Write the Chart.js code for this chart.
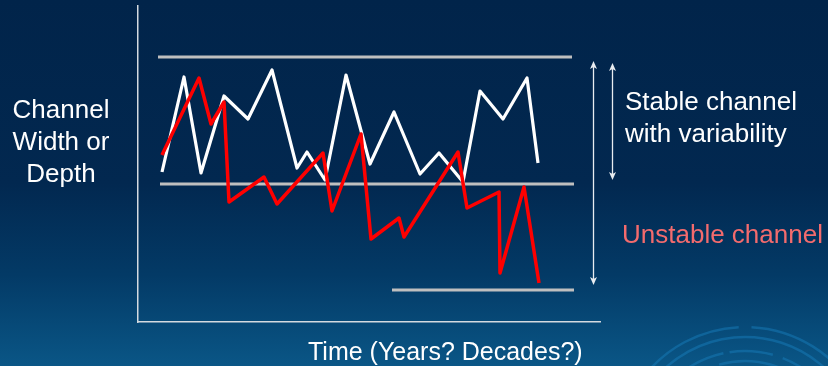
<!DOCTYPE html>
<html>
<head>
<meta charset="utf-8">
<script src="https://cdn.jsdelivr.net/npm/chart.js@4.4.1/dist/chart.umd.min.js"></script>
<style>
  html, body { margin: 0; padding: 0; background: #01244a; overflow: hidden; }
  canvas { display: block; }
</style>
</head>
<body>
<canvas id="c" width="828" height="366"></canvas>
<script>
// ---- Data (arbitrary units: time along x, channel width/depth along y) ----
const stableTime  = [24, 46, 63, 86, 110, 134, 159, 169, 187, 208, 232, 256, 282, 301, 325, 342, 365, 389, 400];
const stableDepth = [150, 245, 149, 226, 203, 252, 154, 170, 142, 247, 158, 210, 148, 169, 140, 231, 203, 244, 159];

const unstableTime  = [24, 61, 73, 86, 91, 126, 139, 185, 194, 223, 233, 261, 266, 320, 329, 361, 362, 386, 401];
const unstableDepth = [167, 244, 198, 220, 120, 145, 118, 169, 111, 188, 83, 104, 85, 170, 114, 130, 49, 135, 39];

// Channel boundary lines: [startTime, endTime, level]
const upperBound  = [20, 434, 265];
const middleBound = [22, 436, 138];
const lowerBound  = [254, 436, 32];

// Double-headed arrows: [time, fromLevel, toLevel]
const unstableArrow = [455, 261, 37];
const stableArrow   = [474, 259, 142];

const yAxisLabel = ["Channel", "Width or", "Depth"];
const xAxisLabel = "Time (Years? Decades?)";
const stableLabel = ["Stable channel", "with variability"];
const unstableLabel = "Unstable channel";

const xMax = 462, yMax = 316;

function seg(b) { return [{x: b[0], y: b[2]}, {x: b[1], y: b[2]}]; }
function pts(xs, ys) { return xs.map((x, i) => ({x, y: ys[i]})); }

const FONT = '26px "Liberation Sans", Arial, sans-serif';
const FONT_X = '25px "Liberation Sans", Arial, sans-serif';

const bgPlugin = {
  id: 'bg',
  beforeDraw(chart) {
    const ctx = chart.ctx, w = chart.width, h = chart.height;
    ctx.save();
    const g = ctx.createLinearGradient(0, 0, 0, h);
    g.addColorStop(0, '#01244a');
    g.addColorStop(0.5, '#022850');
    g.addColorStop(0.75, '#033a66');
    g.addColorStop(1, '#0a5686');
    ctx.fillStyle = g;
    ctx.fillRect(0, 0, w, h);
    // decorative swirl
    ctx.strokeStyle = 'rgba(22,120,180,0.55)';
    ctx.lineWidth = 2.5;
    ctx.lineCap = 'butt';
    const cx = 745, cy = 455;
    const arcs = [
      [128, -2.5, -1.62], [128, -1.52, -0.5],
      [118, -2.45, -0.6],
      [104, -2.2, -1.78], [104, -1.72, -1.3], [104, -1.2, -0.7],
      [94, -2.15, -1.95], [94, -1.85, -1.0]
    ];
    for (const a of arcs) {
      ctx.beginPath();
      ctx.arc(cx, cy, a[0], a[1], a[2]);
      ctx.stroke();
    }
    ctx.restore();
  }
};

const annoPlugin = {
  id: 'anno',
  afterDatasetsDraw(chart) {
    const ctx = chart.ctx;
    const xs = chart.scales.x, ys = chart.scales.y;
    function arrow(a) {
      const x = Math.round(xs.getPixelForValue(a[0])) + 0.5;
      const y1 = ys.getPixelForValue(a[1]);
      const y2 = ys.getPixelForValue(a[2]);
      ctx.save();
      ctx.strokeStyle = '#e8ecf0';
      ctx.fillStyle = '#e8ecf0';
      ctx.lineWidth = 1.3;
      ctx.beginPath();
      ctx.moveTo(x, y1 + 5);
      ctx.lineTo(x, y2 - 5);
      ctx.stroke();
      ctx.beginPath();
      ctx.moveTo(x, y1); ctx.lineTo(x - 3.5, y1 + 8); ctx.lineTo(x, y1 + 6); ctx.lineTo(x + 3.5, y1 + 8); ctx.closePath();
      ctx.fill();
      ctx.beginPath();
      ctx.moveTo(x, y2); ctx.lineTo(x - 3.5, y2 - 8); ctx.lineTo(x, y2 - 6); ctx.lineTo(x + 3.5, y2 - 8); ctx.closePath();
      ctx.fill();
      ctx.restore();
    }
    arrow(unstableArrow);
    arrow(stableArrow);

    ctx.save();
    ctx.font = FONT;
    ctx.textBaseline = 'alphabetic';
    ctx.fillStyle = '#ffffff';
    ctx.textAlign = 'center';
    yAxisLabel.forEach((t, i) => ctx.fillText(t, 61, 118 + i * 32));
    ctx.textAlign = 'left';
    stableLabel.forEach((t, i) => ctx.fillText(t, 625, 110 + i * 32));
    ctx.fillStyle = '#f36b6d';
    ctx.fillText(unstableLabel, 622, 243);
    ctx.fillStyle = '#ffffff';
    ctx.font = FONT_X;
    ctx.fillText(xAxisLabel, 308, 360);
    ctx.restore();
  }
};

const grayLine = (b) => ({
  data: seg(b), showLine: true, borderColor: '#bfbfbf', borderWidth: 3,
  pointRadius: 0, borderCapStyle: 'butt', order: 3
});

new Chart(document.getElementById('c'), {
  type: 'scatter',
  data: {
    datasets: [
      grayLine(upperBound),
      grayLine(middleBound),
      grayLine(lowerBound),
      {
        label: 'Stable channel', data: pts(stableTime, stableDepth), showLine: true,
        borderColor: '#ffffff', borderWidth: 3.2, pointRadius: 0, tension: 0,
        borderJoinStyle: 'round', order: 2
      },
      {
        label: 'Unstable channel', data: pts(unstableTime, unstableDepth), showLine: true,
        borderColor: '#ff0000', borderWidth: 3.5, pointRadius: 0, tension: 0,
        borderJoinStyle: 'round', order: 1
      }
    ]
  },
  options: {
    responsive: false,
    animation: false,
    devicePixelRatio: 1,
    layout: { padding: { left: 138, right: 228, top: 6, bottom: 44 } },
    plugins: { legend: { display: false }, tooltip: { enabled: false }, title: { display: false } },
    scales: {
      x: {
        type: 'linear', min: 0, max: xMax,
        ticks: { display: false },
        grid: { display: false, drawTicks: false, tickLength: 0 },
        border: { display: true, color: '#d4dae0', width: 1.5 }
      },
      y: {
        type: 'linear', min: 0, max: yMax,
        ticks: { display: false },
        grid: { display: false, drawTicks: false, tickLength: 0 },
        border: { display: true, color: '#d4dae0', width: 1.5 }
      }
    }
  },
  plugins: [bgPlugin, annoPlugin]
});
</script>
</body>
</html>
